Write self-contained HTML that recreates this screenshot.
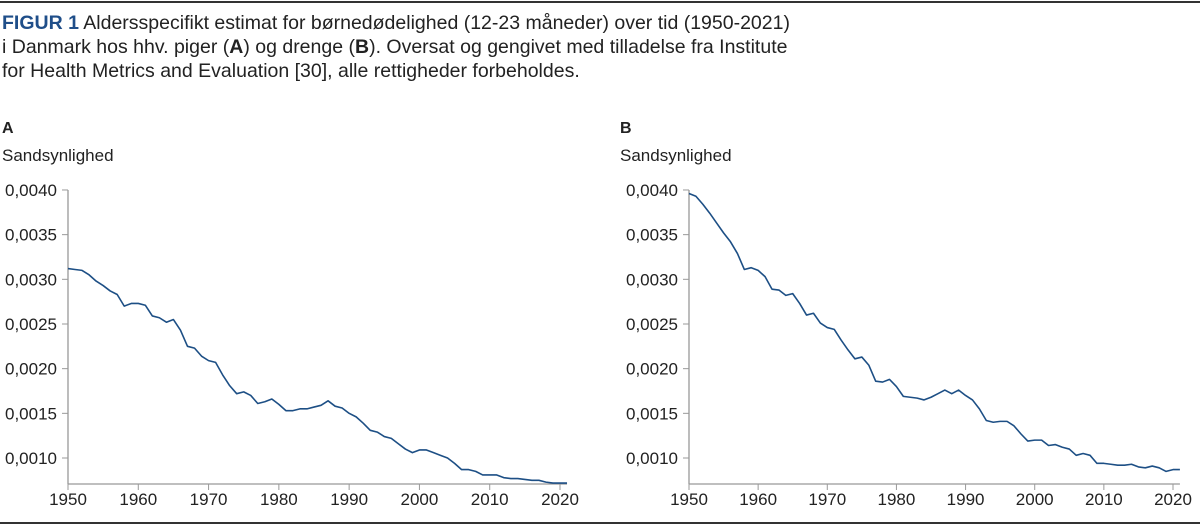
<!DOCTYPE html>
<html><head><meta charset="utf-8"><style>
html,body{margin:0;padding:0;background:#fff;}
body{width:1200px;height:527px;overflow:hidden;position:relative;font-family:"Liberation Sans",Arial,sans-serif;color:#222;}
.rule{position:absolute;left:0;width:1200px;height:2px;background:#333;}
#cap{position:absolute;left:2px;top:11px;font-size:19.5px;line-height:24px;color:#222;}
#cap b.f{color:#1f4e89;}
</style></head><body>
<div class="rule" style="top:1px"></div>
<div id="cap"><b class="f">FIGUR 1</b> Aldersspecifikt estimat for børnedødelighed (12-23 måneder) over tid (1950-2021)<br>i Danmark hos hhv. piger (<b>A</b>) og drenge (<b>B</b>). Oversat og gengivet med tilladelse fra Institute<br>for Health Metrics and Evaluation [30], alle rettigheder forbeholdes.</div>
<svg id="chart" width="1200" height="527" style="position:absolute;left:0;top:0"></svg>
<div class="rule" style="top:522px"></div>
<script>
const years = [];
for (let y = 1950; y <= 2021; y++) years.push(y);
const girls = [0.00312,0.00311,0.00310,0.00305,0.00298,0.00293,0.00287,0.00283,0.00270,0.00273,0.00273,0.00271,0.00259,0.00257,0.00252,0.00255,0.00243,0.00225,0.00223,0.00214,0.00209,0.00207,0.00193,0.00181,0.00172,0.00174,0.00170,0.00161,0.00163,0.00166,0.00160,0.00153,0.00153,0.00155,0.00155,0.00157,0.00159,0.00164,0.00158,0.00156,0.00150,0.00146,0.00139,0.00131,0.00129,0.00124,0.00122,0.00116,0.00110,0.00106,0.00109,0.00109,0.00106,0.00103,0.00100,0.00094,0.00087,0.00087,0.00085,0.00081,0.00081,0.00081,0.00078,0.00077,0.00077,0.00076,0.00075,0.00075,0.00073,0.00072,0.00072,0.00072];
const boys = [0.00396,0.00393,0.00384,0.00374,0.00363,0.00352,0.00342,0.00329,0.00311,0.00313,0.00310,0.00303,0.00289,0.00288,0.00282,0.00284,0.00273,0.00260,0.00262,0.00251,0.00246,0.00244,0.00232,0.00221,0.00211,0.00213,0.00204,0.00186,0.00185,0.00188,0.00180,0.00169,0.00168,0.00167,0.00165,0.00168,0.00172,0.00176,0.00172,0.00176,0.00170,0.00165,0.00155,0.00142,0.00140,0.00141,0.00141,0.00136,0.00127,0.00119,0.00120,0.00120,0.00114,0.00115,0.00112,0.00110,0.00103,0.00105,0.00103,0.00094,0.00094,0.00093,0.00092,0.00092,0.00093,0.00090,0.00089,0.00091,0.00089,0.00085,0.00087,0.00087];
const yTicks = [0.0010,0.0015,0.0020,0.0025,0.0030,0.0035,0.0040];
const yTickLabels = ["0,0010","0,0015","0,0020","0,0025","0,0030","0,0035","0,0040"];
const xTicks = [1950,1960,1970,1980,1990,2000,2010,2020];

const NS = "http://www.w3.org/2000/svg";
const svg = document.getElementById('chart');
function mk(tag, attrs, parent) {
  const e = document.createElementNS(NS, tag);
  for (const k in attrs) e.setAttribute(k, attrs[k]);
  (parent || svg).appendChild(e);
  return e;
}
function panel(letter, data, x0, x2020, labelRight, left, idp) {
  const yMin = 0.00071, yTop = 190, yBase = 484;
  const py = v => 458 - (v - 0.0010) / 0.0005 * 44.67;
  const px = yr => x0 + (yr - 1950) * (x2020 - x0) / 70;
  const g = mk('g', {});
  
  
  const lt = mk('text', {x: left, y: 133, 'font-size': 16, 'font-weight': 'bold', fill: '#222'}, g);
  lt.textContent = letter;
  
  
  const yt = mk('text', {x: left, y: 161, 'font-size': 17, fill: '#222'}, g);
  yt.textContent = 'Sandsynlighed';
  
  
  const ya = mk('line', {x1: x0, x2: x0, y1: yTop, y2: yBase, stroke: '#999', 'stroke-width': 1.3}, g);
  
  
  const xEnd = px(2021);
  const xa = mk('line', {x1: x0, x2: xEnd, y1: yBase, y2: yBase, stroke: '#999', 'stroke-width': 1.3}, g);
  
  
  yTicks.forEach((v, i) => {
    const y = py(v);
    const tk = mk('line', {x1: x0 - 6, x2: x0, y1: y, y2: y, stroke: '#999', 'stroke-width': 1}, g);
    
    
    const t = mk('text', {x: labelRight, y: y + 6, 'font-size': 17, fill: '#222', 'text-anchor': 'end'}, g);
    t.textContent = yTickLabels[i];
    
    
  });
  xTicks.forEach(yr => {
    const x = px(yr);
    const tk = mk('line', {x1: x, x2: x, y1: yBase, y2: yBase + 6, stroke: '#999', 'stroke-width': 1}, g);
    
    
    const t = mk('text', {x: x, y: yBase + 21, 'font-size': 17, fill: '#222', 'text-anchor': 'middle'}, g);
    t.textContent = String(yr);
    
    
  });
  const d = data.map((v, i) => (i ? 'L' : 'M') + px(years[i]).toFixed(2) + ',' + py(Math.max(v, yMin)).toFixed(2)).join(' ');
  const p = mk('path', {d: d, fill: 'none', stroke: '#1d4f85', 'stroke-width': 1.6, 'stroke-linejoin': 'round'}, g);
  
  
}
panel('A', girls, 68, 560, 57, 2, 'girls');
panel('B', boys, 689, 1173, 678, 620, 'boys');
</script>
</body></html>
